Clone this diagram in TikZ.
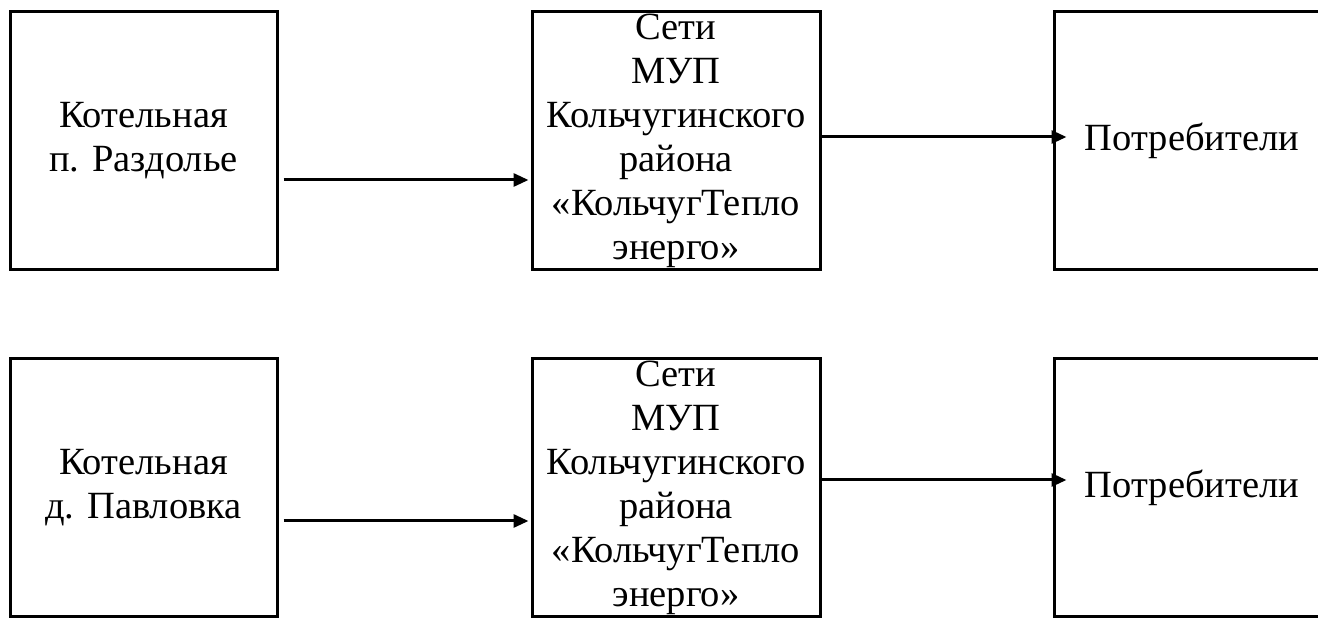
\documentclass[tikz,border=0pt]{standalone}
\usepackage{fontspec}
\setmainfont{Liberation Serif}
\usetikzlibrary{arrows.meta}

\begin{document}
\begin{tikzpicture}[x=1pt,y=1pt,
  blok/.style={draw, line width=3pt, align=center, inner xsep=0pt, inner ysep=-4pt,
    minimum height=258pt, font=\fontsize{38.5}{44}\selectfont},
  strelka/.style={line width=3pt, -{Triangle[length=15pt,width=13pt]}}]
\useasboundingbox (0,0) rectangle (1318,618);
\clip (0,0) rectangle (1318,618);

\node [blok, minimum width=267pt] (kot1) at (143.5,477) {Котельная\\п. Раздолье};
\node [blok, minimum width=288pt] (set1) at (676,477) {Сети\\МУП\\Кольчугинского\\района\\«КольчугТепло\\энерго»};
\node [blok, minimum width=276pt] (pot1) at (1192,477) {Потребители};

\node [blok, minimum width=267pt] (kot2) at (143.5,130) {Котельная\\д. Павловка};
\node [blok, minimum width=288pt] (set2) at (676,130) {Сети\\МУП\\Кольчугинского\\района\\«КольчугТепло\\энерго»};
\node [blok, minimum width=276pt] (pot2) at (1192,130) {Потребители};

\draw [strelka] ([xshift=5pt,yshift=-39pt]kot1.east) -- ([xshift=-2pt,yshift=-39pt]set1.west);
\draw [strelka] ([yshift=4pt]set1.east) -- ([xshift=14pt,yshift=4pt]pot1.west);
\draw [strelka] ([xshift=5pt,yshift=-33pt]kot2.east) -- ([xshift=-2pt,yshift=-33pt]set2.west);
\draw [strelka] ([yshift=8pt]set2.east) -- ([xshift=14pt,yshift=8pt]pot2.west);

\end{tikzpicture}
\end{document}
